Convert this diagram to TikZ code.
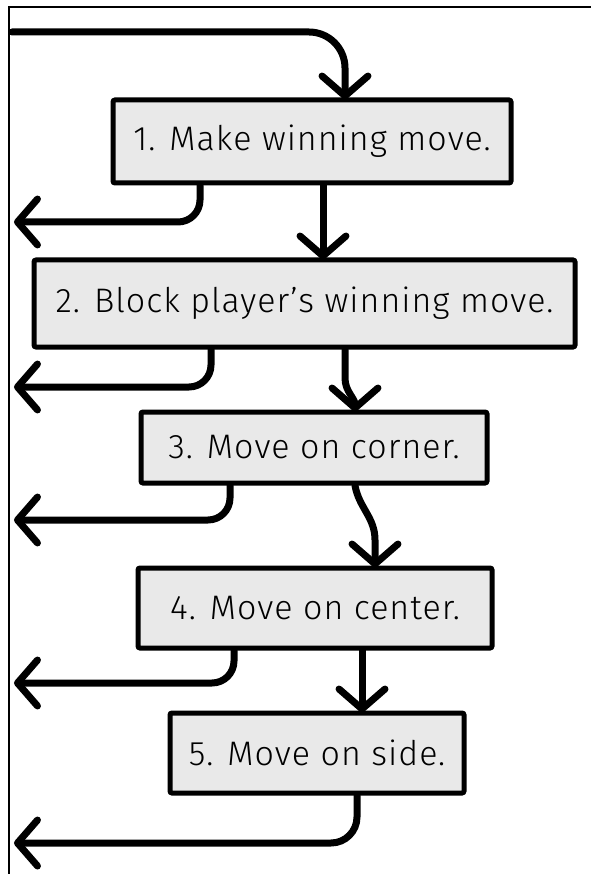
\documentclass[tikz,border=0pt]{standalone}
\usepackage{fontspec}
\setmainfont{Fira Sans}[UprightFont=* Light, LetterSpace=3]
\usetikzlibrary{arrows.meta}
\definecolor{boxfill}{HTML}{E9E9E9}
\tikzset{
  stepbox/.style={draw=black, fill=boxfill, line width=5pt, rounded corners=2pt,
    inner sep=0pt, font=\fontsize{34}{40}\selectfont},
  conn/.style={draw=black, line width=7pt, line cap=round, line join=round},
  arr/.style={conn, -{Straight Barb[length=20pt 0 0, width=46pt 0 0, round]}},
  frame/.style={draw=black, line width=1.6pt}
}
\begin{document}
\begin{tikzpicture}[x=1pt,y=-1pt]
\useasboundingbox (0,0) rectangle (591,874);
\draw[frame] (9,874) -- (9,7) -- (591,7);

\node[stepbox, minimum width=398pt, minimum height=83pt] (b1) at (312,141.5) {1. Make winning move.};
\node[stepbox, minimum width=541pt, minimum height=87pt] (b2) at (304.5,303.5) {2. Block player's winning move.};
\node[stepbox, minimum width=346pt, minimum height=71pt] (b3) at (314,447.5) {3. Move on corner.};
\node[stepbox, minimum width=354pt, minimum height=80pt] (b4) at (315,608) {4. Move on center.};
\node[stepbox, minimum width=294pt, minimum height=80pt] (b5) at (317,753) {5. Move on side.};

\coordinate (s0) at (12,32);
\coordinate (x345) at (345,0);
\coordinate (x200) at (200,0);
\coordinate (x323) at (323,0);
\coordinate (x211) at (211,0);
\coordinate (x355) at (355,0);
\coordinate (x230) at (230,0);
\coordinate (x375) at (375,0);
\coordinate (x234) at (234,0);
\coordinate (x362) at (362,0);
\coordinate (x357) at (357,0);
\coordinate (e1) at (14,222);
\coordinate (e2) at (14,387);
\coordinate (e3) at (14,520);
\coordinate (e4) at (14,683);
\coordinate (e5) at (14,843);

% entry into step 1
\draw[arr, rounded corners=36pt] (s0) -| ([yshift=-2pt]b1.north -| x345);
% step 1
\draw[arr, rounded corners=22pt] (b1.south -| x200) |- (e1);
\draw[arr] (b1.south -| x323) -- ([yshift=-2pt]b2.north -| x323);
% step 2
\draw[arr, rounded corners=22pt] (b2.south -| x211) |- (e2);
\draw[arr] (b2.south -| x345) -- (345,378) to[out=-90,in=90] ([yshift=-2pt]b3.north -| x355);
% step 3
\draw[arr, rounded corners=22pt] (b3.south -| x230) |- (e3);
\draw[arr] (b3.south -| x355) to[out=-80,in=90] (375,540) -- ([yshift=-2pt]b4.north -| x375);
% step 4
\draw[arr, rounded corners=22pt] (b4.south -| x234) |- (e4);
\draw[arr] (b4.south -| x362) -- ([yshift=-2pt]b5.north -| x362);
% step 5
\draw[arr, rounded corners=26pt] (b5.south -| x357) |- (e5);
\end{tikzpicture}
\end{document}
